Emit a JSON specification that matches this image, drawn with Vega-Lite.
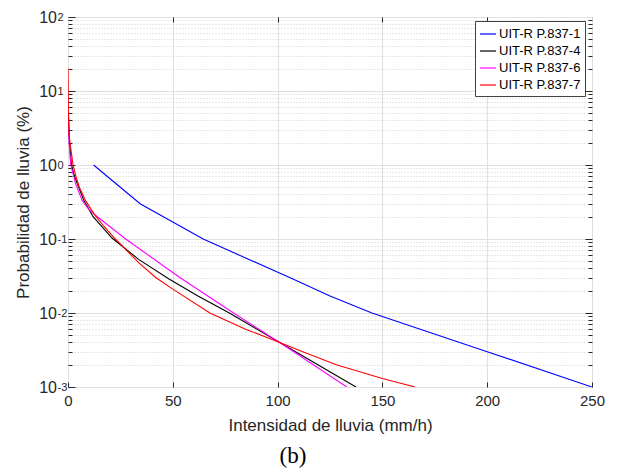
{
  "$schema": "https://vega.github.io/schema/vega-lite/v6.json",
  "width": 524,
  "height": 370,
  "autosize": {"type": "none"},
  "padding": {"left": 68, "top": 17, "right": 25, "bottom": 83},
  "background": "white",
  "title": {"text": "(b)", "orient": "bottom", "anchor": "middle", "font": "Liberation Serif", "fontSize": 23, "fontWeight": "normal", "color": "#000000", "dx": -37, "offset": 11},
  "data": {"values": [
    {"norma": "UIT-R P.837-1", "intensidad": 12.2, "probabilidad": 1},
    {"norma": "UIT-R P.837-1", "intensidad": 34.4, "probabilidad": 0.3},
    {"norma": "UIT-R P.837-1", "intensidad": 64.5, "probabilidad": 0.1},
    {"norma": "UIT-R P.837-1", "intensidad": 85, "probabilidad": 0.055},
    {"norma": "UIT-R P.837-1", "intensidad": 106, "probabilidad": 0.03},
    {"norma": "UIT-R P.837-1", "intensidad": 125, "probabilidad": 0.017},
    {"norma": "UIT-R P.837-1", "intensidad": 145, "probabilidad": 0.01},
    {"norma": "UIT-R P.837-1", "intensidad": 200, "probabilidad": 0.003},
    {"norma": "UIT-R P.837-1", "intensidad": 250, "probabilidad": 0.001},
    {"norma": "UIT-R P.837-4", "intensidad": 0.2, "probabilidad": 5},
    {"norma": "UIT-R P.837-4", "intensidad": 0.7, "probabilidad": 2},
    {"norma": "UIT-R P.837-4", "intensidad": 1.7, "probabilidad": 1},
    {"norma": "UIT-R P.837-4", "intensidad": 2.8, "probabilidad": 0.75},
    {"norma": "UIT-R P.837-4", "intensidad": 4.4, "probabilidad": 0.56},
    {"norma": "UIT-R P.837-4", "intensidad": 7.6, "probabilidad": 0.33},
    {"norma": "UIT-R P.837-4", "intensidad": 12, "probabilidad": 0.2},
    {"norma": "UIT-R P.837-4", "intensidad": 21, "probabilidad": 0.103},
    {"norma": "UIT-R P.837-4", "intensidad": 33.7, "probabilidad": 0.053},
    {"norma": "UIT-R P.837-4", "intensidad": 48, "probabilidad": 0.029},
    {"norma": "UIT-R P.837-4", "intensidad": 62, "probabilidad": 0.017},
    {"norma": "UIT-R P.837-4", "intensidad": 77, "probabilidad": 0.01},
    {"norma": "UIT-R P.837-4", "intensidad": 101, "probabilidad": 0.004},
    {"norma": "UIT-R P.837-4", "intensidad": 137.4, "probabilidad": 0.001},
    {"norma": "UIT-R P.837-6", "intensidad": 0.2, "probabilidad": 5},
    {"norma": "UIT-R P.837-6", "intensidad": 0.5, "probabilidad": 2},
    {"norma": "UIT-R P.837-6", "intensidad": 1.3, "probabilidad": 1},
    {"norma": "UIT-R P.837-6", "intensidad": 3.6, "probabilidad": 0.56},
    {"norma": "UIT-R P.837-6", "intensidad": 6.8, "probabilidad": 0.33},
    {"norma": "UIT-R P.837-6", "intensidad": 10, "probabilidad": 0.25},
    {"norma": "UIT-R P.837-6", "intensidad": 14, "probabilidad": 0.2},
    {"norma": "UIT-R P.837-6", "intensidad": 27.5, "probabilidad": 0.1},
    {"norma": "UIT-R P.837-6", "intensidad": 53.5, "probabilidad": 0.03},
    {"norma": "UIT-R P.837-6", "intensidad": 79, "probabilidad": 0.01},
    {"norma": "UIT-R P.837-6", "intensidad": 101, "probabilidad": 0.004},
    {"norma": "UIT-R P.837-6", "intensidad": 133, "probabilidad": 0.001},
    {"norma": "UIT-R P.837-7", "intensidad": 0, "probabilidad": 20},
    {"norma": "UIT-R P.837-7", "intensidad": 0.1, "probabilidad": 10},
    {"norma": "UIT-R P.837-7", "intensidad": 0.2, "probabilidad": 5},
    {"norma": "UIT-R P.837-7", "intensidad": 0.5, "probabilidad": 2.5},
    {"norma": "UIT-R P.837-7", "intensidad": 2.4, "probabilidad": 1},
    {"norma": "UIT-R P.837-7", "intensidad": 3.8, "probabilidad": 0.7},
    {"norma": "UIT-R P.837-7", "intensidad": 5.4, "probabilidad": 0.5},
    {"norma": "UIT-R P.837-7", "intensidad": 8.4, "probabilidad": 0.33},
    {"norma": "UIT-R P.837-7", "intensidad": 12.3, "probabilidad": 0.22},
    {"norma": "UIT-R P.837-7", "intensidad": 17, "probabilidad": 0.15},
    {"norma": "UIT-R P.837-7", "intensidad": 22.6, "probabilidad": 0.1},
    {"norma": "UIT-R P.837-7", "intensidad": 28, "probabilidad": 0.07},
    {"norma": "UIT-R P.837-7", "intensidad": 33.7, "probabilidad": 0.048},
    {"norma": "UIT-R P.837-7", "intensidad": 42, "probabilidad": 0.03},
    {"norma": "UIT-R P.837-7", "intensidad": 50, "probabilidad": 0.021},
    {"norma": "UIT-R P.837-7", "intensidad": 67.7, "probabilidad": 0.01},
    {"norma": "UIT-R P.837-7", "intensidad": 85, "probabilidad": 0.006},
    {"norma": "UIT-R P.837-7", "intensidad": 101, "probabilidad": 0.004},
    {"norma": "UIT-R P.837-7", "intensidad": 112, "probabilidad": 0.003},
    {"norma": "UIT-R P.837-7", "intensidad": 128, "probabilidad": 0.002},
    {"norma": "UIT-R P.837-7", "intensidad": 150, "probabilidad": 0.0013},
    {"norma": "UIT-R P.837-7", "intensidad": 165.6, "probabilidad": 0.001}
  ]},
  "resolve": {"axis": {"x": "independent", "y": "independent"}},
  "layer": [
    {
      "mark": {"type": "line", "strokeWidth": 1.1, "clip": true},
      "encoding": {
        "x": {"field": "intensidad", "type": "quantitative",
          "scale": {"domain": [0, 250], "nice": false, "zero": false},
          "axis": {"orient": "bottom", "title": "Intensidad de lluvia (mm/h)", "values": [0, 50, 100, 150, 200, 250],
            "grid": true, "tickSize": -5, "labelPadding": 11, "titleX": 262, "titleY": 38.5, "titleBaseline": "middle", "titleAlign": "center"}},
        "y": {"field": "probabilidad", "type": "quantitative",
          "scale": {"type": "log", "domain": [0.001, 100], "nice": false},
          "axis": {"orient": "left", "title": "Probabilidad de lluvia (%)", "values": [0.001, 0.01, 0.1, 1, 10, 100],
            "grid": true, "tickSize": -7, "labelPadding": 18, "labelAlign": "left", "labelFontSize": 11, "labelDy": -8,
            "labelExpr": "datum.value > 50 ? '2' : datum.value > 5 ? '1' : datum.value > 0.5 ? '0' : datum.value > 0.05 ? '-1' : datum.value > 0.005 ? '-2' : '-3'",
            "titleX": -44.5, "titleY": 185, "titleAngle": 270, "titleAlign": "center", "titleBaseline": "middle"}},
        "color": {"field": "norma", "type": "nominal",
          "scale": {"domain": ["UIT-R P.837-1", "UIT-R P.837-4", "UIT-R P.837-6", "UIT-R P.837-7"], "range": ["#0000ff", "#000000", "#ff00ff", "#ff0000"]},
          "legend": {"orient": "none", "legendX": 407, "legendY": 4, "title": null}}
      }
    },
    {
      "mark": {"type": "point", "opacity": 0},
      "encoding": {
        "x": {"field": "intensidad", "type": "quantitative", "scale": {"domain": [0, 250], "nice": false, "zero": false},
          "axis": {"orient": "top", "values": [50, 100, 150, 200], "labels": false, "grid": false, "tickSize": -5, "title": null}},
        "y": {"field": "probabilidad", "type": "quantitative", "scale": {"type": "log", "domain": [0.001, 100], "nice": false},
          "axis": {"orient": "left", "values": [0.002, 0.003, 0.004, 0.005, 0.006, 0.007, 0.008, 0.009, 0.02, 0.03, 0.04, 0.05, 0.06, 0.07, 0.08, 0.09, 0.2, 0.3, 0.4, 0.5, 0.6, 0.7, 0.8, 0.9, 2, 3, 4, 5, 6, 7, 8, 9, 20, 30, 40, 50, 60, 70, 80, 90],
            "labels": false, "grid": true, "gridDash": [1, 2], "gridColor": "#d0d0d0", "tickSize": -4, "title": null}}
      }
    },
    {
      "mark": {"type": "point", "opacity": 0},
      "encoding": {
        "x": {"field": "intensidad", "type": "quantitative", "scale": {"domain": [0, 250], "nice": false, "zero": false}, "axis": null},
        "y": {"field": "probabilidad", "type": "quantitative", "scale": {"type": "log", "domain": [0.001, 100], "nice": false},
          "axis": {"orient": "right", "values": [0.01, 0.1, 1, 10], "labels": false, "grid": false, "tickSize": -7, "title": null}}
      }
    },
    {
      "mark": {"type": "point", "opacity": 0},
      "encoding": {
        "x": {"field": "intensidad", "type": "quantitative", "scale": {"domain": [0, 250], "nice": false, "zero": false}, "axis": null},
        "y": {"field": "probabilidad", "type": "quantitative", "scale": {"type": "log", "domain": [0.001, 100], "nice": false},
          "axis": {"orient": "right", "values": [0.002, 0.003, 0.004, 0.005, 0.006, 0.007, 0.008, 0.009, 0.02, 0.03, 0.04, 0.05, 0.06, 0.07, 0.08, 0.09, 0.2, 0.3, 0.4, 0.5, 0.6, 0.7, 0.8, 0.9, 2, 3, 4, 5, 6, 7, 8, 9, 20, 30, 40, 50, 60, 70, 80, 90],
            "labels": false, "grid": false, "tickSize": -4, "title": null}}
      }
    },
    {
      "mark": {"type": "point", "opacity": 0},
      "encoding": {
        "x": {"field": "intensidad", "type": "quantitative", "scale": {"domain": [0, 250], "nice": false, "zero": false}, "axis": null},
        "y": {"field": "probabilidad", "type": "quantitative", "scale": {"type": "log", "domain": [0.001, 100], "nice": false},
          "axis": {"orient": "left", "values": [0.001, 0.01, 0.1, 1, 10, 100], "labels": true, "ticks": false, "tickSize": 0, "grid": false, "title": null,
            "labelPadding": 11.5, "labelFontSize": 16, "labelDy": -2, "labelExpr": "'10'"}}
      }
    }
  ],
  "config": {
    "view": {"stroke": "#262626", "strokeWidth": 1},
    "axis": {"domain": false, "labelFont": "Liberation Sans", "labelFontSize": 15, "labelColor": "#262626",
      "titleFont": "Liberation Sans", "titleFontSize": 17, "titleFontWeight": "normal", "titleColor": "#262626",
      "tickColor": "#262626", "gridColor": "#e0e0e0", "labelFlush": false, "labelOverlap": false},
    "legend": {"fillColor": "white", "strokeColor": "#404040", "strokeWidth": 1, "padding": 4, "symbolSize": 256,
      "symbolStrokeWidth": 1.2, "labelFont": "Liberation Sans", "labelFontSize": 13, "labelColor": "#000000", "rowPadding": 1, "labelOffset": 2, "cornerRadius": 0}
  }
}
